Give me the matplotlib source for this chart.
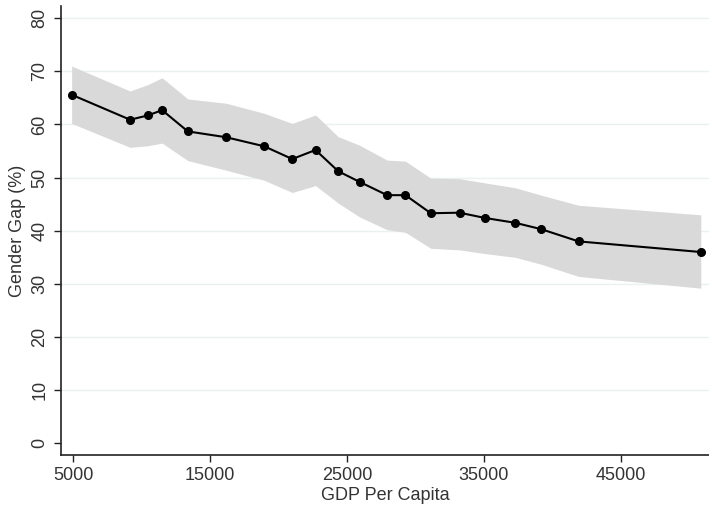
import matplotlib
matplotlib.use('Agg')
import matplotlib.pyplot as plt

plt.rcParams['font.family'] = ['Liberation Sans', 'DejaVu Sans']

# GDP per capita bins, mean gender gap and 95% band
gdp = [4880, 9150, 10440, 11490, 13370, 16170, 18950, 21000, 22700, 24360,
       25920, 27930, 29270, 31120, 33220, 35100, 37290, 39190, 41920, 50850]
gap = [65.6, 60.9, 61.7, 62.7, 58.7, 57.6, 55.9, 53.5, 55.2, 51.2,
       49.2, 46.7, 46.7, 43.3, 43.4, 42.4, 41.5, 40.3, 38.0, 36.0]
upper = [71.0, 66.3, 67.5, 68.8, 64.8, 64.0, 62.1, 60.2, 61.8, 57.7,
         56.1, 53.3, 53.1, 49.9, 49.8, 49.0, 48.1, 46.7, 44.8, 43.0]
lower = [60.2, 55.7, 56.0, 56.5, 53.2, 51.4, 49.5, 47.2, 48.5, 45.2,
         42.6, 40.2, 39.7, 36.7, 36.4, 35.7, 35.0, 33.7, 31.4, 29.2]

yticks = list(range(0, 81, 10))
xticks = [5000, 15000, 25000, 35000, 45000]

fig = plt.figure(figsize=(7.09, 5.05), dpi=100)
ax = fig.add_axes([60.7 / 709, 1 - 455 / 505, (709 - 60.7) / 709, (455 - 6) / 505])

ax.fill_between(gdp, lower, upper, color='#d9d9d9', linewidth=0, zorder=1)
ax.plot(gdp, gap, color='black', linewidth=1.5, marker='o', markersize=5.5, zorder=3)

ax.set_xlim(4080, 51450)
ax.set_ylim(-2.2, 82.3)
ax.set_yticks(yticks)
ax.set_xticks(xticks)
ax.set_xticklabels([str(t) for t in xticks])
ax.set_yticklabels([str(t) for t in yticks], rotation=90, va='center')

for y in yticks[1:]:
    ax.axhline(y, color='#eaf1f2', linewidth=1.0, zorder=0)

for side in ['top', 'right']:
    ax.spines[side].set_visible(False)
for side in ['left', 'bottom']:
    ax.spines[side].set_linewidth(1.2)
    ax.spines[side].set_color('#222222')

ax.tick_params(axis='both', direction='out', length=5, width=1.0, labelsize=13,
               colors='#222222', labelcolor='#333333')
ax.tick_params(axis='y', pad=4)

ax.set_xlabel('GDP Per Capita', fontsize=13, color='#333333', labelpad=2)
ax.set_ylabel('Gender Gap (%)', fontsize=13, color='#333333', labelpad=4)

fig.savefig('out.png', dpi=100)
